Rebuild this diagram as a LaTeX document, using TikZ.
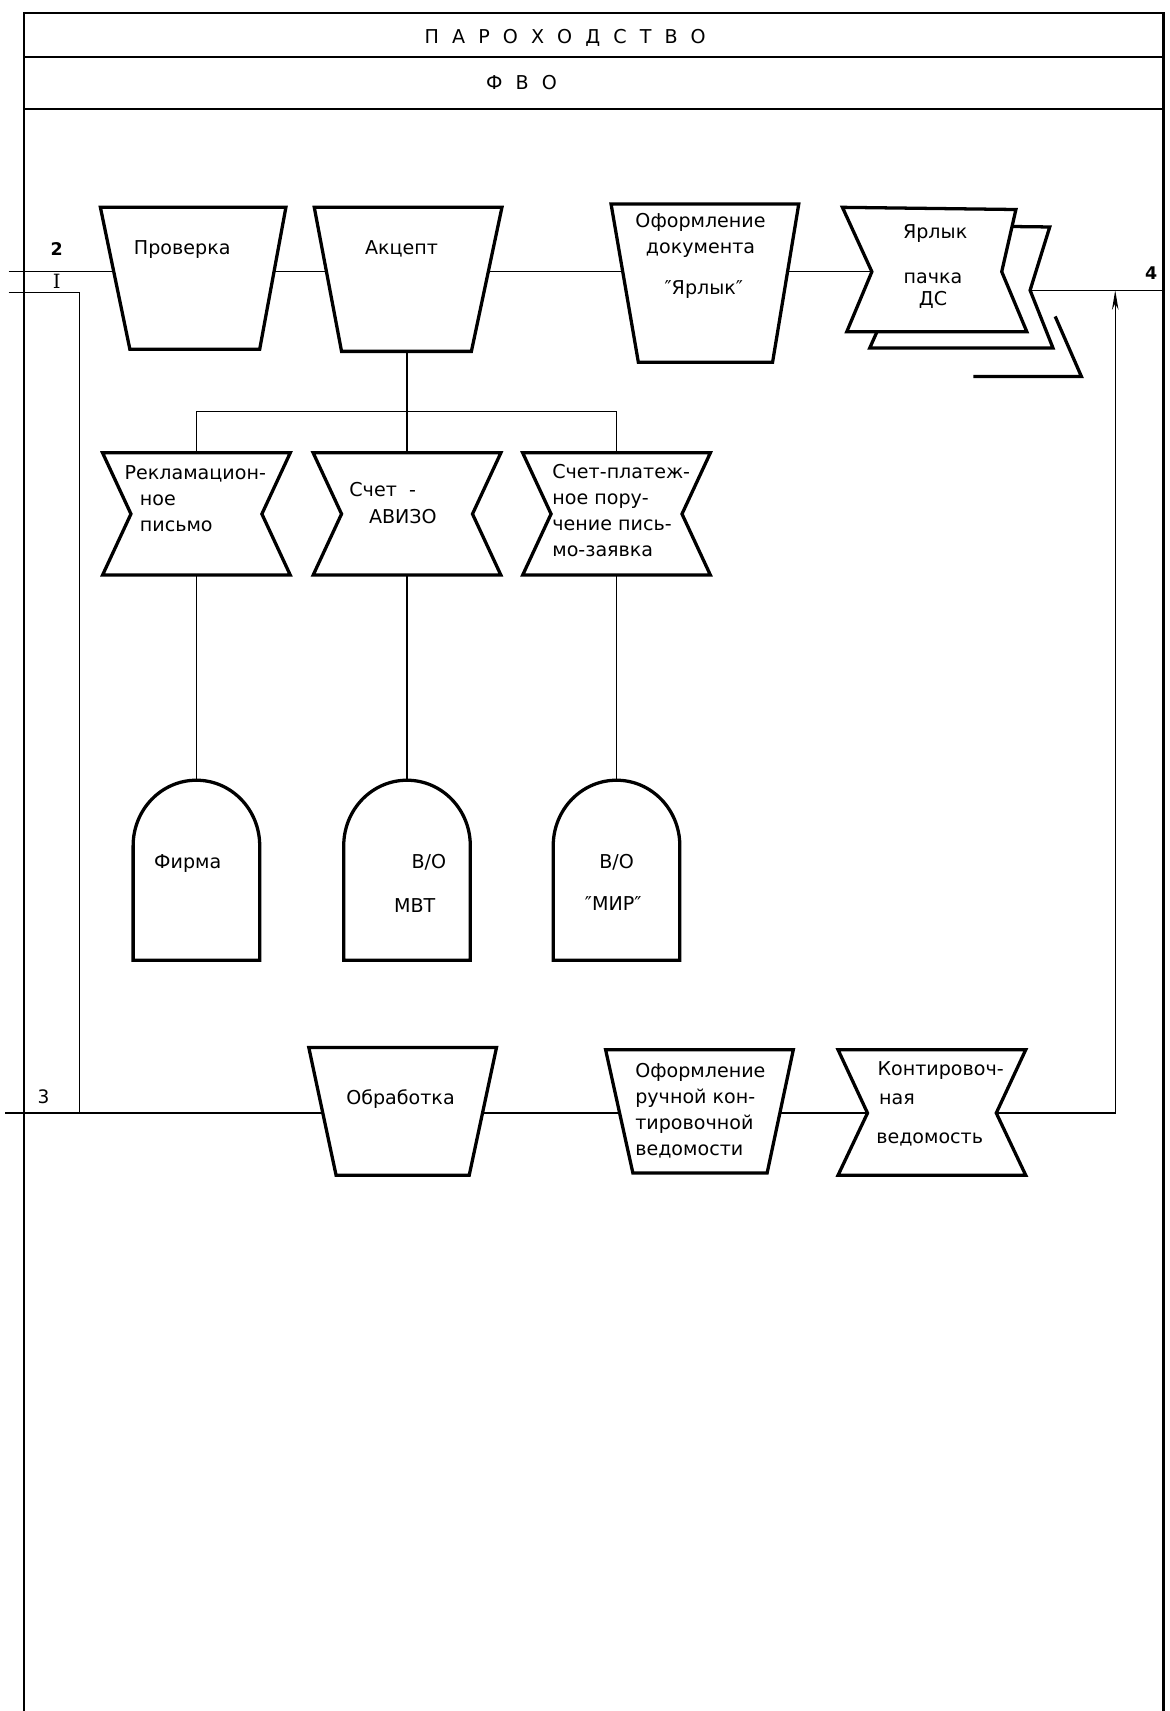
\documentclass[tikz,border=0pt]{standalone}
\usepackage{fontspec}
\setmainfont{DejaVu Sans}
\newfontfamily\romanI{DejaVu Serif}
\usetikzlibrary{backgrounds,arrows.meta}
\newcommand\lsp{\hspace{12pt}}
\newcommand\qm{″}
\begin{document}
\begin{tikzpicture}[x=1pt,y=-1pt,
  frameline/.style={line width=1.6pt},
  borderline/.style={line width=2.4pt},
  shp/.style={line width=3pt, line join=miter, fill=white},
  conn/.style={line width=1.2pt},
  lbl/.style={font=\fontsize{17.5}{24}\selectfont, inner sep=0pt, align=left},
  hdr/.style={font=\fontsize{17.5}{18}\selectfont, inner sep=0pt},
  num/.style={font=\bfseries\fontsize{16}{18}\selectfont, inner sep=0pt},
]
\useasboundingbox (0,0) rectangle (1072,1568);

% ---------- frame ----------
\draw[frameline] (22,12) -- (1066,12);
\draw[frameline] (22,52) -- (1066,52);
\draw[frameline] (22,100) -- (1066,100);
\draw[borderline] (22,11) -- (22,1568);
\draw[borderline] (1066,11) -- (1066,1568);
\node[hdr] (h1) at (518,35) {П\lsp А\lsp Р\lsp О\lsp Х\lsp О\lsp Д\lsp С\lsp Т\lsp В\lsp О};
\node[hdr] (h2) at (478,76) {Ф\lsp В\lsp О};

% ---------- connection points ----------
\coordinate (in2) at (8,249);
\coordinate (in1) at (8,268);
\coordinate (in3) at (5,1020);
\coordinate (j1) at (73,268);
\coordinate (yarlW) at (799,249);
\coordinate (yarlE) at (944,266);
\coordinate (out4) at (1066,266);
\coordinate (ret) at (1022,266);
\coordinate (kontW) at (795,1020);
\coordinate (kontE) at (913,1020);
\coordinate (akcB) at (373,322);
\coordinate (bus) at (373,377);
\coordinate (rekT) at (180,415);
\coordinate (avizT) at (373,415);
\coordinate (platT) at (565,415);
\coordinate (rekB) at (180,527);
\coordinate (avizB) at (373,527);
\coordinate (platB) at (565,527);
\coordinate (firmT) at (180,715);
\coordinate (mvtT) at (373,715);
\coordinate (mirT) at (565,715);

% ---------- connectors (behind shapes) ----------
\begin{pgfonlayer}{background}
\draw[conn] (in2) -- (yarlW);
\draw[conn] (in1) -- (j1) -- (j1 |- in3);
\draw[conn] (in3) -- (kontW);
\draw[conn] (yarlE) -- (out4);
\draw[conn, -{Stealth[length=18pt,width=6pt]}] (kontE) -| (ret);
\draw[conn] (akcB) -- (bus);
\draw[conn] (rekT) |- (bus) -| (platT);
\draw[conn] (bus) -- (avizT);
\draw[conn] (rekB) -- (firmT);
\draw[conn] (avizB) -- (mvtT);
\draw[conn] (platB) -- (mirT);
\end{pgfonlayer}

% ---------- top row ----------
\draw[shp] (92,190) -- (262,190) -- (238,320) -- (119,320) -- cycle;
\node[lbl] (prov) at (167,229) {Проверка};
\draw[shp] (288,190) -- (460,190) -- (432,322) -- (313,322) -- cycle;
\node[lbl] (akc) at (368,228) {Акцепт};
\draw[shp] (560,187) -- (732,187) -- (708,332) -- (585,332) -- cycle;
\node[lbl, align=center] (oform1) at (642,216) {Оформление\\документа};
\node[lbl] (oform2) at (645,265) {\qm Ярлык\qm};

% stacked documents
\draw[shp, fill=none] (967,290) -- (991,345) -- (892,345);
\draw[shp] (797,206) -- (962,208) -- (944,266) -- (965,319) -- (797,319) -- (821,265) -- cycle;
\draw[shp] (772,190) -- (931,192) -- (918,249) -- (941,304) -- (776,304) -- (799,249) -- cycle;
\node[lbl] (yarl1) at (857,214) {Ярлык};
\node[lbl, align=center] (yarl2) at (855,266) {пачка\\[-4pt]ДС};

% ---------- middle documents ----------
\foreach \cx in {180,373,565}{
  \draw[shp] (\cx-86,415) -- (\cx+86,415) -- (\cx+60,471) -- (\cx+86,527)
     -- (\cx-86,527) -- (\cx-60,471) -- cycle;
}
\node[lbl, anchor=west] (rek) at (114,457) {Рекламацион-\\\hspace*{14pt}ное\\\hspace*{14pt}письмо};
\node[lbl, anchor=west] (aviz) at (320,461) {Счет\ \ -\\\hspace*{18pt}АВИЗО};
\node[lbl, anchor=west] (plat) at (506,468) {Счет-платеж-\\ное пору-\\чение пись-\\мо-заявка};

% ---------- arches ----------
\foreach \cx in {180,373,565}{
  \draw[shp] (\cx-58,880) -- (\cx-58,775) arc[start angle=180, end angle=360, x radius=58, y radius=60]
     -- (\cx+58,880) -- cycle;
}
\node[lbl] (firma) at (172,791) {Фирма};
\node[lbl] (mvt1) at (393,790) {В/О};
\node[lbl] (mvt2) at (380,830) {МВТ};
\node[lbl] (mir1) at (565,790) {В/О};
\node[lbl] (mir2) at (562,828) {\qm МИР\qm};

% ---------- bottom row ----------
\draw[shp] (283,960) -- (455,960) -- (430,1077) -- (308,1077) -- cycle;
\node[lbl] (obr) at (367,1007) {Обработка};
\draw[shp] (555,962) -- (727,962) -- (703,1075) -- (580,1075) -- cycle;
\node[lbl, anchor=west] (ruch) at (582,1018) {Оформление\\ручной кон-\\тировочной\\ведомости};
\draw[shp] (768,962) -- (940,962) -- (913,1020) -- (940,1077) -- (768,1077) -- (795,1020) -- cycle;
\node[lbl] (kont1) at (862,981) {Контировоч-};
\node[lbl] (kont2) at (822,1007) {ная};
\node[lbl] (kont3) at (852,1044) {ведомость};

% ---------- line labels ----------
\node[num] (n2) at (52,228) {2};
\node[inner sep=0pt, font=\romanI\fontsize{18}{18}\selectfont] (n1) at (52,258) {I};
\node[inner sep=0pt, font=\fontsize{17}{18}\selectfont] (n3) at (40,1005) {3};
\node[num] (n4) at (1055,250) {4};
\end{tikzpicture}
\end{document}
